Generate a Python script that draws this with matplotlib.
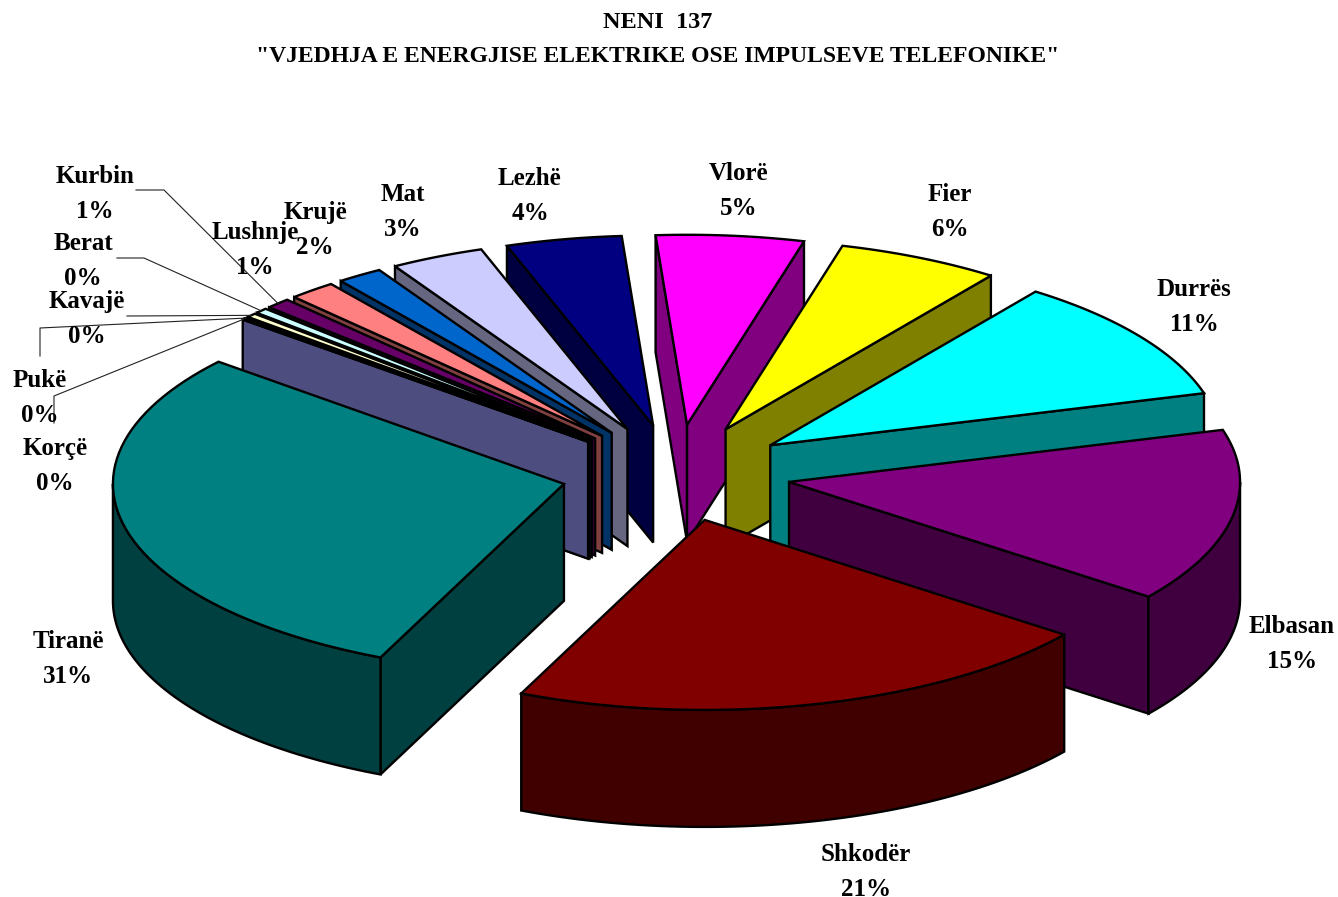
import matplotlib
matplotlib.use("Agg")
import matplotlib.pyplot as plt
from matplotlib.patches import Polygon
from matplotlib.colors import to_rgb
import numpy as np

plt.rcParams['font.family'] = ['Liberation Serif', 'DejaVu Serif']
plt.rcParams['font.weight'] = 'bold'

# slice shares in drawing order, clockwise
cities = ["Vlorë", "Fier", "Durrës", "Elbasan", "Shkodër", "Tiranë", "Korçë", "Pukë",
          "Kavajë", "Berat", "Kurbin", "Lushnje", "Krujë", "Mat", "Lezhë"]
shares = [5.28, 5.83, 10.56, 14.72, 21.33, 29.42, 0.08, 0.12,
          0.36, 0.46, 0.90, 1.70, 1.64, 3.36, 4.14]
# percent labels as printed on the chart
percent_labels = ["5%", "6%", "11%", "15%", "21%", "31%", "0%", "0%",
                  "0%", "0%", "1%", "1%", "2%", "3%", "4%"]
colors = ["#FF00FF", "#FFFF00", "#00FFFF", "#800080", "#800000", "#008080", "#9999FF", "#993366",
          "#FFFFCC", "#CCFFFF", "#660066", "#FF8080", "#0066CC", "#CCCCFF", "#000080"]
label_x = [739, 950, 1194, 1292, 866, 68, 55, 40, 87, 83, 95, 255, 315, 403, 530]
label_y = [191, 212, 307, 644, 872, 659, 466, 398, 319, 261, 194, 250, 230, 212, 196]

# pie geometry in pixels
cx, cy = 676, 473
rx, ry = 451, 190
explode = 115
depth = 117
start_angle = -4


def point(apex, a, r=1.0):
    a = np.radians(a)
    return apex[0] + r * rx * np.sin(a), apex[1] - r * ry * np.cos(a)


def wall(apex, a):
    x, y = point(apex, a)
    return [apex, (x, y), (x, y + depth), (apex[0], apex[1] + depth)]


fig = plt.figure(figsize=(13.38, 8.97), dpi=100)
ax = fig.add_axes([0, 0, 1, 1])
ax.set_xlim(0, 1338)
ax.set_ylim(897, 0)
ax.axis('off')

shares_arr = np.array(shares)
edges = start_angle + np.concatenate([[0], np.cumsum(shares_arr)]) / shares_arr.sum() * 360
mids = (edges[:-1] + edges[1:]) / 2
apexes = [(cx + explode * np.sin(np.radians(m)),
           cy - explode * ry / rx * np.cos(np.radians(m))) for m in mids]

line = dict(edgecolor='black', linewidth=1.7, joinstyle='miter')

# back slices first so the front ones cover them
for i in np.argsort(-np.cos(np.radians(mids))):
    a1, a2 = edges[i], edges[i + 1]
    apex = apexes[i]
    top = np.array(to_rgb(colors[i]))
    side = top / 2
    if np.sin(np.radians(a1)) < 0:
        ax.add_patch(Polygon(wall(apex, a1), facecolor=side, **line))
    if np.sin(np.radians(a2)) > 0:
        ax.add_patch(Polygon(wall(apex, a2), facecolor=side, **line))
    # outer rim, only the part that faces the viewer
    r1, r2 = max(a1, 90), min(a2, 270)
    if r2 > r1:
        aa = np.linspace(r1, r2, 60)
        upper = [point(apex, a) for a in aa]
        lower = [(x, y + depth) for x, y in upper[::-1]]
        ax.add_patch(Polygon(upper + lower, facecolor=side, **line))
    aa = np.linspace(a1, a2, 60)
    ax.add_patch(Polygon([apex] + [point(apex, a) for a in aa], facecolor=top, **line))

# leader lines of the small slices, from the label to the slice edge
leaders = {"Kurbin": [(136, 190), (164, 190)],
           "Berat": [(117, 258), (144, 258)],
           "Kavajë": [(127, 316)],
           "Pukë": [(40, 356), (40, 328)],
           "Korçë": [(54, 423), (54, 396)]}
for name, pts in leaders.items():
    i = cities.index(name)
    end = point(apexes[i], mids[i])
    xs = [p[0] for p in pts] + [end[0]]
    ys = [p[1] for p in pts] + [end[1]]
    ax.plot(xs, ys, color='#222222', lw=0.8, zorder=5)

for i, name in enumerate(cities):
    ax.text(label_x[i], label_y[i], name + "\n" + percent_labels[i], fontsize=18, ha='center',
            va='center', linespacing=1.7, color='black', zorder=6)

ax.text(658, 22.5, "NENI  137", fontsize=17.5, ha='center', va='center', zorder=6)
ax.text(658, 57, '"VJEDHJA E ENERGJISE ELEKTRIKE OSE IMPULSEVE TELEFONIKE"', fontsize=17,
        ha='center', va='center', zorder=6)

fig.savefig("out.png", dpi=100)
